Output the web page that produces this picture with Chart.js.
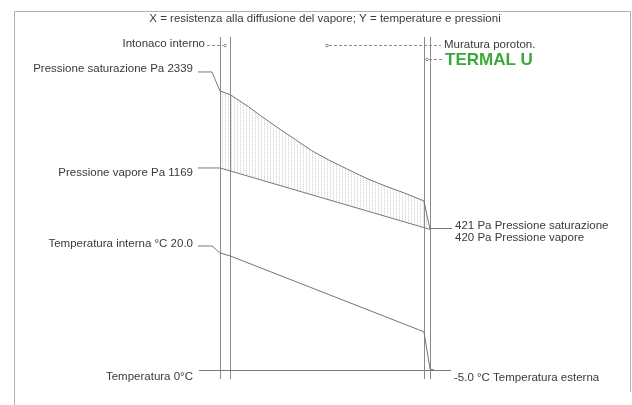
<!DOCTYPE html>
<html>
<head>
<meta charset="utf-8">
<script src="https://cdn.jsdelivr.net/npm/chart.js@4.4.0/dist/chart.umd.min.js"></script>
<style>
  html, body { margin: 0; padding: 0; background: #fff; }
  #wrap { width: 632px; height: 405px; position: relative; }
</style>
</head>
<body>
<div id="wrap"><canvas id="c"></canvas></div>
<script>
// ---- Data ----
const titleText = 'X = resistenza alla diffusione del vapore; Y = temperature e pressioni';
const layerBounds = [0, 5, 100, 103];           // relative vapour diffusion resistance
const layerNames = ['Intonaco interno', 'Muratura poroton.', 'TERMAL U'];

const satX  = [0, 5, 14, 20, 28, 37, 45, 53, 62, 72, 81, 91, 100, 103];
const satPa = [2108, 2063, 1915, 1805, 1665, 1515, 1380, 1270, 1160, 1040, 950, 858, 767, 421];

const vapX  = [0, 5, 100, 103];
const vapPa = [1169, 1133, 442, 420];

const tempX = [0, 5, 100, 103, 105];
const tempC = [18.6, 18.0, 2.7, -4.8, -5.0];

const insideTemp = 20.0;
const insidePsat = 2339;
const insidePv = 1169;
const outsideTemp = -5.0;
const outsidePsat = 421;
const outsidePv = 420;

const toXY = (xs, ys) => xs.map((x, i) => ({ x: x, y: ys[i] }));

// hatch pattern for condensation-risk band
function hatch() {
  const p = document.createElement('canvas');
  p.width = 3; p.height = 2;
  const g = p.getContext('2d');
  g.fillStyle = 'rgba(150,150,150,0.35)';
  g.fillRect(0, 0, 1, 1);
  g.fillStyle = 'rgba(170,170,170,0.18)';
  g.fillRect(0, 1, 1, 1);
  return g.createPattern(p, 'repeat');
}

const LINE = '#747474';
const TEXT = '#3a3a3a';
const FONT = '11.5px "Liberation Sans", Arial, sans-serif';

const deco = {
  id: 'deco',
  beforeDatasetsDraw(chart) {
    const ctx = chart.ctx;
    const xs = chart.scales.x;
    ctx.save();
    // frame
    ctx.strokeStyle = '#b0b0b0';
    ctx.lineWidth = 1;
    ctx.beginPath();
    ctx.moveTo(14.5, 420); ctx.lineTo(14.5, 11.5); ctx.lineTo(630.5, 11.5); ctx.lineTo(630.5, 392);
    ctx.stroke();
    // layer boundaries
    ctx.strokeStyle = '#8a8a8a';
    layerBounds.forEach(b => {
      const px = Math.round(xs.getPixelForValue(b)) + 0.5;
      ctx.beginPath(); ctx.moveTo(px, 37); ctx.lineTo(px, 379); ctx.stroke();
    });
    ctx.restore();
  },
  afterDraw(chart) {
    const ctx = chart.ctx;
    const xs = chart.scales.x, yP = chart.scales.yP, yT = chart.scales.yT;
    const x0 = xs.getPixelForValue(layerBounds[0]);
    const xEnd = xs.getPixelForValue(layerBounds[layerBounds.length - 1]);
    ctx.save();
    ctx.font = FONT;
    ctx.fillStyle = TEXT;
    ctx.textBaseline = 'middle';

    // title
    ctx.textAlign = 'center';
    ctx.fillText(titleText, 325, 19);

    // leader lines
    ctx.strokeStyle = '#7a7a7a';
    ctx.lineWidth = 1;
    const ySat = yP.getPixelForValue(insidePsat);
    const yVap = yP.getPixelForValue(insidePv);
    const yTi = yT.getPixelForValue(insideTemp);
    const yTe = yT.getPixelForValue(outsideTemp);
    const yRight = yP.getPixelForValue(outsidePsat);
    ctx.beginPath();
    ctx.moveTo(198, ySat); ctx.lineTo(212, ySat);
    ctx.lineTo(x0, yP.getPixelForValue(satPa[0]));
    ctx.moveTo(198, yVap); ctx.lineTo(x0, yP.getPixelForValue(vapPa[0]));
    ctx.moveTo(198, yTi); ctx.lineTo(212, yTi);
    ctx.lineTo(x0, yT.getPixelForValue(tempC[0]));
    ctx.moveTo(199, Math.round(yTe) + 0.5); ctx.lineTo(451, Math.round(yTe) + 0.5);
    ctx.moveTo(xEnd, Math.round(yRight) - 0.5); ctx.lineTo(452, Math.round(yRight) - 0.5);
    ctx.stroke();

    // left labels
    ctx.textAlign = 'right';
    ctx.fillText('Pressione saturazione Pa ' + insidePsat, 193, ySat - 3);
    ctx.fillText('Pressione vapore Pa ' + insidePv, 193, yVap + 5);
    ctx.fillText('Temperatura interna \u00B0C ' + insideTemp.toFixed(1), 193, yTi - 2);
    ctx.fillText('Temperatura 0\u00B0C', 193, yTe + 7);
    ctx.fillText(layerNames[0], 205, 44);

    // right labels
    ctx.textAlign = 'left';
    ctx.fillText(outsidePsat + ' Pa Pressione saturazione', 455, yRight - 4);
    ctx.fillText(outsidePv + ' Pa Pressione vapore', 455, yRight + 8);
    ctx.fillText(outsideTemp.toFixed(1) + ' \u00B0C Temperatura esterna', 454, yTe + 8);
    ctx.fillText(layerNames[1], 444, 45);
    ctx.font = 'bold 17px "Liberation Sans", Arial, sans-serif';
    ctx.fillStyle = '#3aa83a';
    ctx.fillText(layerNames[2], 445, 60);

    // layer pointers (dashed, from layer centre)
    const centre = i => xs.getPixelForValue((layerBounds[i] + layerBounds[i + 1]) / 2);
    ctx.strokeStyle = '#8a8a8a';
    ctx.setLineDash([3, 2]);
    ctx.beginPath();
    ctx.moveTo(207, 45.5); ctx.lineTo(centre(0) - 2, 45.5);
    ctx.moveTo(centre(1) + 2, 45.5); ctx.lineTo(441, 45.5);
    ctx.moveTo(centre(2) + 2, 59.5); ctx.lineTo(442, 59.5);
    ctx.stroke();
    ctx.setLineDash([]);
    [[0, 45.5], [1, 45.5], [2, 59.5]].forEach(([i, y]) => {
      ctx.beginPath(); ctx.arc(centre(i), y, 1.3, 0, Math.PI * 2); ctx.stroke();
    });
    ctx.restore();
  }
};

new Chart(document.getElementById('c'), {
  type: 'line',
  data: {
    datasets: [
      {
        label: 'Pressione saturazione',
        data: toXY(satX, satPa),
        yAxisID: 'yP',
        borderColor: LINE, borderWidth: 1, pointRadius: 0, tension: 0,
        fill: '+1', backgroundColor: hatch()
      },
      {
        label: 'Pressione vapore',
        data: toXY(vapX, vapPa),
        yAxisID: 'yP',
        borderColor: LINE, borderWidth: 1, pointRadius: 0, tension: 0, fill: false
      },
      {
        label: 'Temperatura',
        data: toXY(tempX, tempC),
        yAxisID: 'yT',
        borderColor: LINE, borderWidth: 1, pointRadius: 0, tension: 0, fill: false
      }
    ]
  },
  options: {
    responsive: true,
    maintainAspectRatio: false,
    animation: false,
    layout: { padding: 0 },
    plugins: { legend: { display: false }, tooltip: { enabled: false }, title: { display: false } },
    scales: {
      x: { type: 'linear', min: -107.8, max: 202, display: false },
      yP: { type: 'linear', position: 'left', min: -1720, max: 3216, display: false },
      yT: { type: 'linear', position: 'right', min: -12.06, max: 69.6, display: false }
    }
  },
  plugins: [deco]
});
</script>
</body>
</html>
